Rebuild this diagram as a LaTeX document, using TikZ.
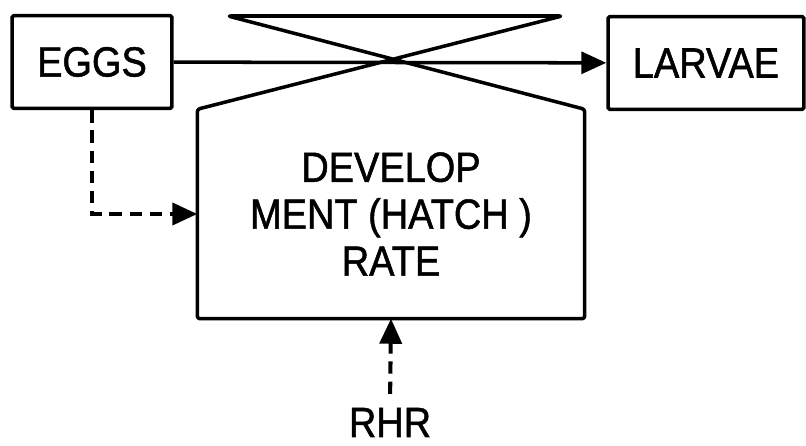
\documentclass[tikz,border=0pt]{standalone}
\usepackage{fontspec}
\setmainfont{Liberation Sans}[FakeStretch=0.9, FakeBold=1.2]
\usepackage{tikz}
\usetikzlibrary{arrows.meta,positioning,calc}

\begin{document}
\begin{tikzpicture}[x=0.02cm, y=-0.02cm, line width=2pt,
  font=\fontsize{24}{26.7}\selectfont,
  box/.style={draw, rectangle, rounded corners=1pt, inner sep=0pt, minimum height=1.86cm},
  flow/.style={-{Triangle[length=0.5cm, width=0.44cm]}},
  info/.style={-{Triangle[length=0.5cm, width=0.44cm]}, line width=2.3pt, dash pattern=on 7pt off 4.5pt}]
\useasboundingbox (0,0) rectangle (806,446);
% state variables
\node[box, minimum width=3.2cm] (eggs) at (92,62) {EGGS};
\node[box, minimum width=3.92cm] (larvae) at (706,63) {LARVAE};
% rate with valve on top
\node[inner sep=0pt, minimum width=7.68cm, minimum height=4.12cm, align=center] (rate) at (391,214) {DEVELOP\\MENT (HATCH )\\RATE};
\coordinate (valveL) at (228,16);
\coordinate (valveR) at (562,16);
\draw[line join=round, rounded corners=1.5pt] (rate.north west) -- (valveR) -- (valveL) -- (rate.north east) -- (rate.south east) -- (rate.south west) -- cycle;
\node[inner sep=0pt, anchor=base] (rhr) at (390,437) {RHR};
% flows and information
\draw[flow] (eggs) -- (larvae);
\draw[info] (eggs.south) |- (rate.west);
\draw[info, shorten <=7pt] (rhr.north) -- (rate.south);
\end{tikzpicture}
\end{document}
